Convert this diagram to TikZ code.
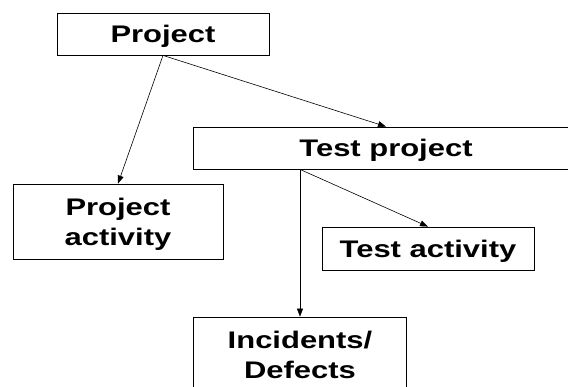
\documentclass[tikz,border=0pt]{standalone}
\usepackage{fontspec}
\setmainfont{Liberation Sans}[FakeStretch=1.29]
\usetikzlibrary{arrows.meta}

\begin{document}
\begin{tikzpicture}[x=1pt, y=-1pt,
  box/.style={draw=black, line width=0.8pt, rectangle, inner sep=0pt,
    font=\fontsize{24pt}{30pt}\selectfont\bfseries,
    text height=17pt, text depth=0pt},
  twoline/.style={box, text height=47pt},
  link/.style={draw=black, line width=0.6pt,
    -{Triangle[length=8pt, width=6pt]}}]
  \useasboundingbox (0,0) rectangle (568,386);

  % entity boxes
  \node[box, minimum width=212pt, minimum height=42pt] (proj) at (163,34) {Project};
  \node[box, minimum width=386pt, minimum height=42pt] (tp) at (386,148) {Test project};
  \node[twoline, minimum width=210pt, minimum height=75pt] (pa) at (118,221.5)
    {\begin{tabular}[b]{@{}c@{}}Project\\activity\end{tabular}};
  \node[box, minimum width=212pt, minimum height=43pt] (ta) at (428,248.5) {Test activity};
  \node[twoline, minimum width=213pt, minimum height=75pt] (inc) at (300,354.5)
    {\begin{tabular}[b]{@{}c@{}}Incidents/\\Defects\end{tabular}};

  % shared exit point under the test project
  \coordinate (tpout) at (inc.north |- tp.south);

  % connectors
  \draw[link] (proj.south) -- (tp.north);
  \draw[link] (proj.south) -- (pa.north);
  \draw[link] (tpout) -- (ta.north);
  \draw[link] (tpout) -- (inc.north);
\end{tikzpicture}
\end{document}
